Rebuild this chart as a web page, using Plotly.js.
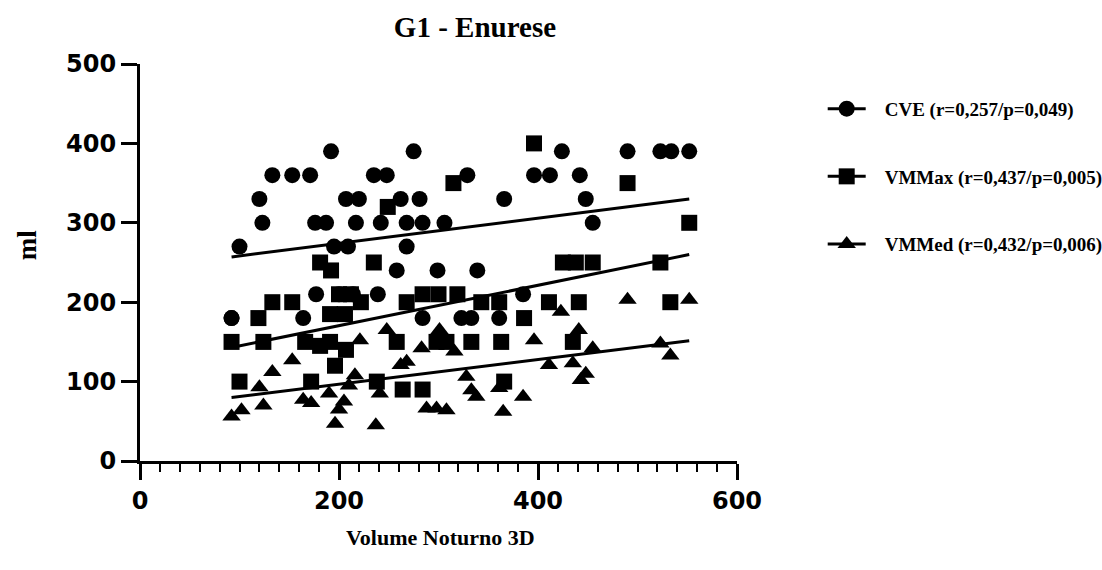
<!DOCTYPE html>
<html>
<head>
<meta charset="utf-8">
<script src="https://cdn.plot.ly/plotly-3.0.1.min.js"></script>
<style>
  html, body { margin: 0; padding: 0; background: #fff; }
  #chart { width: 1102px; height: 570px; }
</style>
</head>
<body>
<div id="chart"></div>
<script>
// Volume noturno 3D (ml) against each bladder measure, one point per child
const cveX = [92, 100, 120, 123, 133, 153, 171, 192, 176, 187, 207, 220, 217, 235, 248, 242, 262, 281, 275, 268,
              284, 306, 195, 209, 268, 258, 299, 329, 366, 424, 396, 412, 442, 448, 455, 490, 523, 534, 552, 339,
              177, 239, 164, 92, 284, 323, 333, 361, 385, 200, 214];
const cveY = [180, 270, 330, 300, 360, 360, 360, 390, 300, 300, 330, 330, 300, 360, 360, 300, 330, 330, 390, 300,
              300, 300, 270, 270, 270, 240, 240, 360, 330, 390, 360, 360, 360, 330, 300, 390, 390, 390, 390, 240,
              210, 210, 180, 180, 180, 180, 180, 180, 210, 210, 210];

const vmmaxX = [92, 100, 119, 124, 133, 153, 166, 181, 191, 172, 181, 192, 235, 249, 196, 207, 191, 206, 238, 258,
                264, 284, 268, 284, 300, 319, 315, 396, 490, 552, 425, 438, 455, 523, 343, 361, 411, 441, 533, 386,
                298, 308, 333, 363, 435, 366, 200, 212, 222];
const vmmaxY = [150, 100, 180, 150, 200, 200, 150, 145, 150, 100, 250, 240, 250, 320, 120, 140, 185, 185, 100, 150,
                90, 90, 200, 210, 210, 210, 350, 400, 350, 300, 250, 250, 250, 250, 200, 200, 200, 200, 200, 180,
                150, 150, 150, 150, 150, 100, 210, 210, 200];

const vmmedX = [92, 102, 120, 124, 133, 153, 164, 172, 196, 237, 221, 248, 216, 262, 241, 190, 200, 205, 210, 268,
                283, 301, 316, 328, 333, 338, 288, 298, 308, 361, 365, 385, 396, 411, 423, 435, 441, 443, 448, 455,
                490, 523, 533, 552, 198];
const vmmedY = [56, 64, 93, 70, 112, 127, 77, 73, 47, 45, 152, 165, 108, 121, 85, 85, 65, 75, 95, 125,
                142, 165, 138, 106, 89, 81, 66, 66, 64, 92, 62, 81, 152, 121, 188, 123, 165, 102, 110, 142,
                203, 148, 133, 203, 185];

// Linear fits (slope, intercept) with the legend's correlation statistics
const seriesNames = ['CVE (r=0,257/p=0,049)', 'VMMax (r=0,437/p=0,005)', 'VMMed (r=0,432/p=0,006)'];
const fitSlopes = [0.1587, 0.2543, 0.1554];
const fitIntercepts = [242.4, 119.6, 65.7];

const xTicks = [0, 200, 400, 600];
const yTicks = [0, 100, 200, 300, 400, 500];

const symbols = ['circle', 'square', 'triangle-up'];
const xs = [cveX, vmmaxX, vmmedX];
const ys = [cveY, vmmaxY, vmmedY];

const traces = [];
for (let i = 0; i < 3; i++) {
  traces.push({
    type: 'scatter', mode: 'markers', x: xs[i], y: ys[i],
    marker: { symbol: symbols[i], size: 16, color: '#000', line: { width: 0 } },
    showlegend: false, hoverinfo: 'x+y'
  });
  const lo = Math.min(...xs[i]), hi = Math.max(...xs[i]);
  traces.push({
    type: 'scatter', mode: 'lines',
    x: [lo, hi],
    y: [fitIntercepts[i] + fitSlopes[i] * lo, fitIntercepts[i] + fitSlopes[i] * hi],
    line: { color: '#000', width: 3 },
    showlegend: false, hoverinfo: 'skip'
  });
  // legend key: line with the series marker
  traces.push({
    type: 'scatter', mode: 'lines+markers', x: [null], y: [null],
    name: seriesNames[i], legendgroup: 'g' + i,
    marker: { symbol: symbols[i], size: 16, color: '#000' },
    line: { color: '#000', width: 3 }
  });
}

const serifBold = { family: 'Liberation Serif, Times New Roman, serif', weight: 'bold', color: '#000' };
const tickFont = { family: 'DejaVu Sans, sans-serif', size: 24, weight: 'bold', color: '#000' };

const layout = {
  width: 1102, height: 570,
  margin: { l: 140, r: 364, t: 64, b: 109 },
  paper_bgcolor: '#fff', plot_bgcolor: '#fff',
  showlegend: true,
  title: {
    text: 'G1 - Enurese',
    font: Object.assign({ size: 29 }, serifBold),
    xref: 'container', x: 0.431, xanchor: 'center',
    yref: 'container', y: 0.953, yanchor: 'middle'
  },
  xaxis: {
    range: [0, 600], tickvals: xTicks, ticktext: xTicks.map(String),
    showgrid: false, zeroline: false,
    showline: true, linecolor: '#000', linewidth: 3,
    ticks: 'outside', ticklen: 16, tickwidth: 3, tickcolor: '#000',
    minor: { dtick: 20, ticks: 'outside', ticklen: 8, tickwidth: 2, tickcolor: '#000', showgrid: false },
    tickfont: tickFont,
    fixedrange: true
  },
  yaxis: {
    range: [0, 500], tickvals: yTicks, ticktext: yTicks.map(String),
    showgrid: false, zeroline: false,
    showline: true, linecolor: '#000', linewidth: 3,
    ticks: 'outside', ticklen: 16, tickwidth: 3, tickcolor: '#000',
    tickfont: tickFont,
    fixedrange: true
  },
  legend: {
    x: 1.15, xanchor: 'left', y: 0.935, yanchor: 'top',
    font: Object.assign({ size: 19 }, serifBold),
    tracegroupgap: 40, itemwidth: 30,
    bgcolor: 'rgba(0,0,0,0)'
  },
  annotations: [
    {
      text: 'ml', xref: 'paper', yref: 'paper',
      x: (27 - 140) / 598, y: (461 - 245) / 397,
      xanchor: 'center', yanchor: 'middle', textangle: -90, showarrow: false,
      font: Object.assign({ size: 27 }, serifBold)
    },
    {
      text: 'Volume Noturno 3D', xref: 'paper', yref: 'paper',
      x: (441 - 140) / 598, y: (461 - 537) / 397,
      xanchor: 'center', yanchor: 'middle', showarrow: false,
      font: Object.assign({ size: 22 }, serifBold)
    }
  ]
};

Plotly.newPlot('chart', traces, layout, { staticPlot: true, displayModeBar: false }).then(function (gd) {
  // widen the legend keys: longer line, marker centred on it, text further right
  gd.querySelectorAll('.legend .traces').forEach(function (item) {
    item.querySelectorAll('.legendlines path').forEach(function (p) { p.setAttribute('d', 'M0,0h38'); });
    item.querySelectorAll('.legendpoints path').forEach(function (p) { p.setAttribute('transform', 'translate(19,0)'); });
    item.querySelectorAll('.legendtext').forEach(function (t) { t.setAttribute('x', 57); });
  });
  // the wider entries must not be cut by the legend's clip box
  gd.querySelectorAll('.legend [clip-path]').forEach(function (el) { el.removeAttribute('clip-path'); });
  gd.querySelectorAll('.legend').forEach(function (el) { el.style.overflow = 'visible'; });
});
</script>
</body>
</html>
